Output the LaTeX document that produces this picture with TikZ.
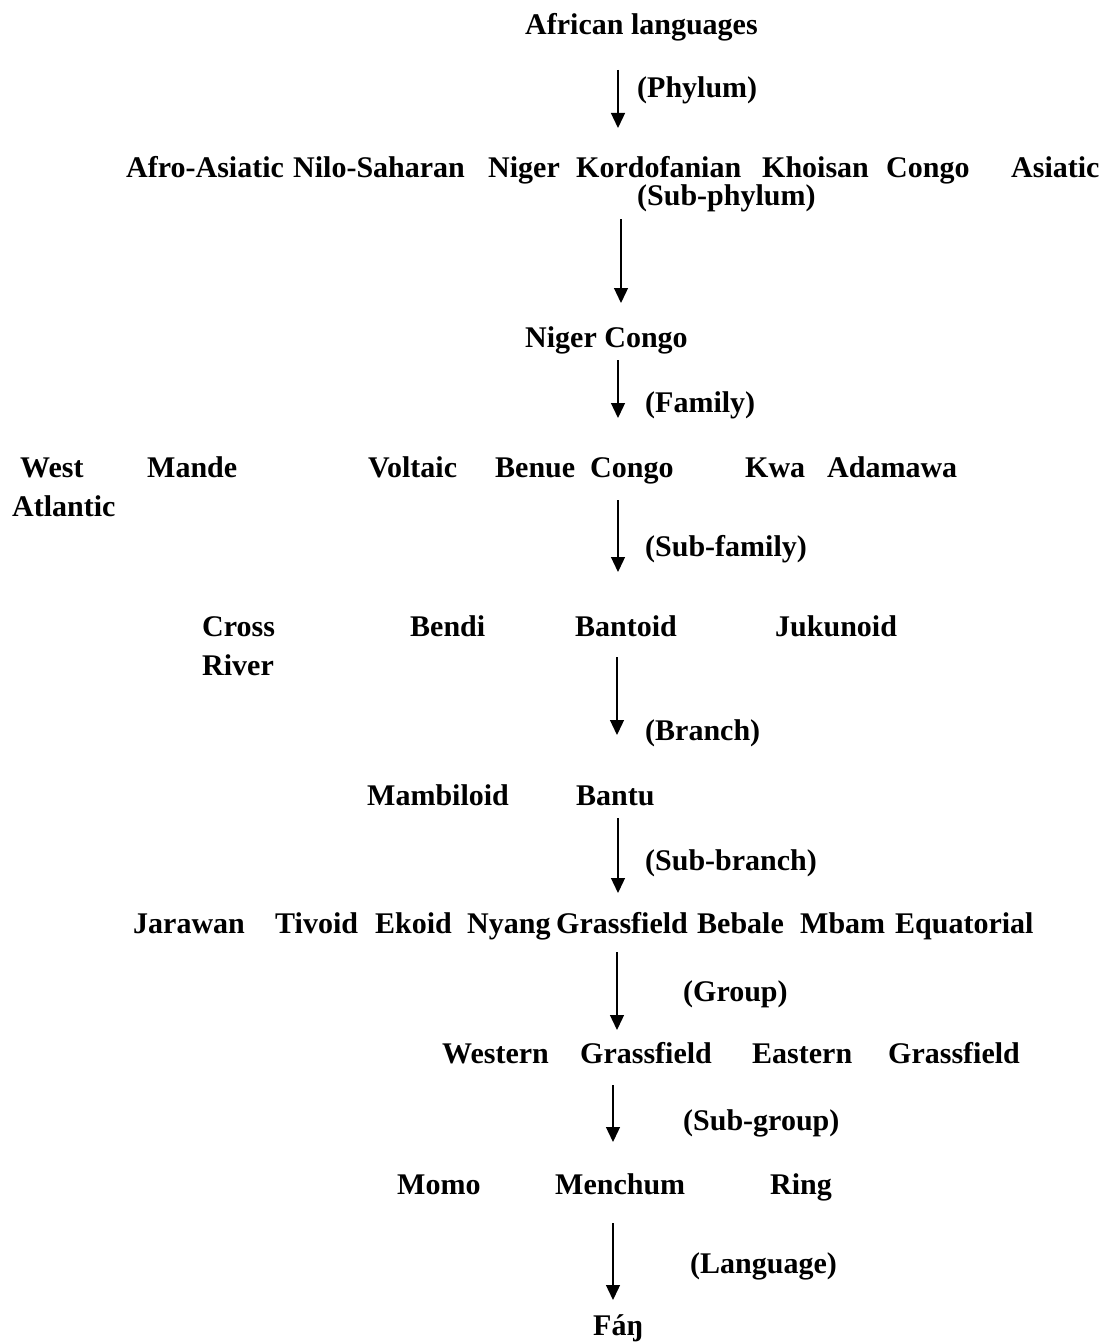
\documentclass[tikz,border=0pt]{standalone}
\usepackage{fontspec}
\setmainfont{Liberation Serif}
\usetikzlibrary{arrows.meta}
\begin{document}
\begin{tikzpicture}[x=1pt,y=-1pt,
  txt/.style={anchor=base west,inner sep=0pt,font=\bfseries\fontsize{30}{36}\selectfont},
  arr/.style={line width=1.3pt,-{Triangle[length=15pt,width=14pt]}}]
\useasboundingbox (0,0) rectangle (1106,1343);
% row 1
\node[txt] (african) at (525,35) {African languages};
\node[txt] (phylum) at (637,98) {(Phylum)};
% row 2
\node[txt] (afroasiatic) at (126,178) {Afro-Asiatic};
\node[txt] (nilosaharan) at (293,178) {Nilo-Saharan};
\node[txt] (niger) at (488,178) {Niger};
\node[txt] (kordofanian) at (576,178) {Kordofanian};
\node[txt] (khoisan) at (762,178) {Khoisan};
\node[txt] (congo) at (886,178) {Congo};
\node[txt] (asiatic) at (1011,178) {Asiatic};
\node[txt] (subphylum) at (637,205) {(Sub-phylum)};
% row 3
\node[txt] (nigercongo) at (525,347) {Niger Congo};
\node[txt] (family) at (645,412) {(Family)};
% row 4
\node[txt] (west) at (20,477) {West};
\node[txt] (atlantic) at (12,516) {Atlantic};
\node[txt] (mande) at (147,477) {Mande};
\node[txt] (voltaic) at (368,477) {Voltaic};
\node[txt] (benue) at (495,477) {Benue};
\node[txt] (bcongo) at (590,477) {Congo};
\node[txt] (kwa) at (745,477) {Kwa};
\node[txt] (adamawa) at (827,477) {Adamawa};
\node[txt] (subfamily) at (645,556) {(Sub-family)};
% row 5
\node[txt] (cross) at (202,636) {Cross};
\node[txt] (river) at (202,675) {River};
\node[txt] (bendi) at (410,636) {Bendi};
\node[txt] (bantoid) at (575,636) {Bantoid};
\node[txt] (jukunoid) at (775,636) {Jukunoid};
\node[txt] (branch) at (645,740) {(Branch)};
% row 6
\node[txt] (mambiloid) at (367,805) {Mambiloid};
\node[txt] (bantu) at (576,805) {Bantu};
\node[txt] (subbranch) at (645,870) {(Sub-branch)};
% row 7
\node[txt] (jarawan) at (133,933) {Jarawan};
\node[txt] (tivoid) at (275,933) {Tivoid};
\node[txt] (ekoid) at (375,933) {Ekoid};
\node[txt] (nyang) at (467,933) {Nyang};
\node[txt] (grassfield) at (556,933) {Grassfield};
\node[txt] (bebale) at (697,933) {Bebale};
\node[txt] (mbam) at (800,933) {Mbam};
\node[txt] (equatorial) at (895,933) {Equatorial};
\node[txt] (group) at (683,1001) {(Group)};
% row 8
\node[txt] (western) at (442,1063) {Western};
\node[txt] (wgrass) at (580,1063) {Grassfield};
\node[txt] (eastern) at (752,1063) {Eastern};
\node[txt] (egrass) at (888,1063) {Grassfield};
\node[txt] (subgroup) at (683,1130) {(Sub-group)};
% row 9
\node[txt] (momo) at (397,1194) {Momo};
\node[txt] (menchum) at (555,1194) {Menchum};
\node[txt] (ring) at (770,1194) {Ring};
\node[txt] (language) at (690,1273) {(Language)};
% row 10
\node[txt] (fan) at (593,1335) {Fáŋ};
% arrows
\coordinate (s1) at (618,70);   \coordinate (e1) at (618,128);
\coordinate (s2) at (621,219);  \coordinate (e2) at (621,303);
\coordinate (s3) at (618,360);  \coordinate (e3) at (618,418);
\coordinate (s4) at (618,500);  \coordinate (e4) at (618,572);
\coordinate (s5) at (617,657);  \coordinate (e5) at (617,735);
\coordinate (s6) at (618,818);  \coordinate (e6) at (618,893);
\coordinate (s7) at (617,952);  \coordinate (e7) at (617,1030);
\coordinate (s8) at (613,1085); \coordinate (e8) at (613,1142);
\coordinate (s9) at (613,1223); \coordinate (e9) at (613,1300);
\foreach \i in {1,...,9} {\draw[arr] (s\i) -- (e\i);}
\end{tikzpicture}
\end{document}
